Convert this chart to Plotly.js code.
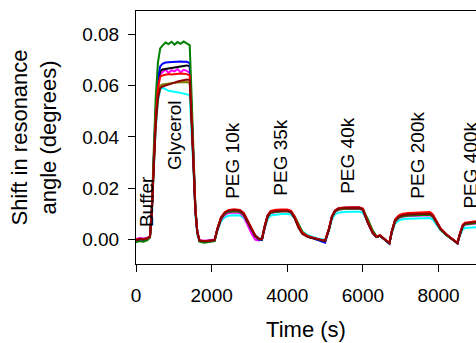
<!DOCTYPE html>
<html>
<head>
<meta charset="utf-8">
<script src="https://cdn.plot.ly/plotly-3.0.1.min.js"></script>
<style>html,body{margin:0;padding:0;overflow:hidden;background:#fff}#chart{width:476px;height:343px}</style>
</head>
<body>
<div id="chart"></div>
<script>
// Time (s)
const time = [0,100,200,300,370, 420,470,520,580,640, 700,780,860,940,1020,1100,1180,1260,1340,1420, 1470,1520,1570,1620,1680, 1800,1950,2080,
 2150,2250,2350,2450,2600,2750,2850,2950,3050,3150,3250,3330,
 3400,3480,3560,3700,3850,4000,4100,4200,4300,4400,4550,4700,4850,5000,
 5100,5180,5260,5350,5500,5700,5900,6000,6130,6260,6360,6450,6550,6700,
 6760,6850,6950,7050,7200,7400,7600,7770,7850,7950,8050,8200,8330,8430,8500,
 8560,8640,8700,8800,8900,8990];

const cyan = [0.0000,0.0004,0.0003,0.0005,0.0012, 0.011,0.027,0.043,0.054,0.0585,
 0.0592,0.0585,0.0580,0.0578,0.0576,0.0574,0.0572,0.0570,0.0567,0.0562,
 0.043,0.027,0.010,0.002,-0.0006, -0.0008,-0.0006,-0.0003,
 0.0033,0.0072,0.0088,0.0093,0.0095,0.0094,0.0085,0.0062,0.0040,0.0018,0.0006,0.0004,
 0.0042,0.0080,0.0094,0.0098,0.0100,0.0100,0.0098,0.0082,0.0055,0.0032,0.0017,0.0009,0.0003,0.0000,
 0.0034,0.0078,0.0098,0.0105,0.0108,0.0109,0.0109,0.0105,0.0070,0.0032,0.0015,0.0014,0.0004,-0.0017,
 0.0024,0.0063,0.0075,0.0079,0.0081,0.0083,0.0084,0.0084,0.0078,0.0058,0.0037,0.0017,0.0004,-0.0004,-0.0012,
 0.0014,0.0040,0.0045,0.0046,0.0047,0.0048];

const magenta = [0.0002,0.0006,0.0004,0.0007,0.0014, 0.012,0.030,0.048,0.060,0.0645,
 0.0652,0.0663,0.0650,0.0660,0.0656,0.0665,0.0652,0.0662,0.0658,0.0650,
 0.050,0.031,0.012,0.003,-0.0002, -0.0004,-0.0003,0.0000,
 0.0036,0.0078,0.0097,0.0104,0.0106,0.0104,0.0090,0.0058,0.0025,0.0000,-0.0003,0.0001,
 0.0047,0.0088,0.0104,0.0108,0.0110,0.0110,0.0106,0.0084,0.0050,0.0026,0.0012,0.0005,0.0000,-0.0005,
 0.0038,0.0086,0.0108,0.0116,0.0119,0.0120,0.0120,0.0115,0.0066,0.0026,0.0011,0.0015,0.0004,-0.0013,
 0.0027,0.0070,0.0084,0.0089,0.0092,0.0094,0.0095,0.0095,0.0088,0.0063,0.0040,0.0019,0.0005,-0.0003,-0.0012,
 0.0017,0.0050,0.0058,0.0060,0.0061,0.0063];

const olive = [-0.0002,0.0001,0.0002,0.0004,0.0011, 0.011,0.028,0.045,0.056,0.0600,
 0.0605,0.0607,0.0608,0.0610,0.0611,0.0612,0.0613,0.0614,0.0614,0.0610,
 0.048,0.029,0.011,0.003,-0.0004, -0.0006,-0.0005,-0.0002,
 0.0039,0.0083,0.0102,0.0109,0.0111,0.0109,0.0097,0.0068,0.0038,0.0014,0.0003,0.0002,
 0.0048,0.0089,0.0105,0.0109,0.0110,0.0110,0.0106,0.0082,0.0047,0.0024,0.0011,0.0004,0.0000,-0.0005,
 0.0039,0.0087,0.0109,0.0117,0.0120,0.0121,0.0121,0.0116,0.0066,0.0026,0.0011,0.0015,0.0004,-0.0013,
 0.0028,0.0072,0.0087,0.0092,0.0095,0.0097,0.0098,0.0098,0.0090,0.0064,0.0041,0.0019,0.0005,-0.0004,-0.0013,
 0.0019,0.0053,0.0060,0.0063,0.0064,0.0066];

const black = [-0.0002,0.0002,0.0001,0.0004,0.0011, 0.012,0.031,0.049,0.061,0.0655,
 0.0663,0.0665,0.0667,0.0669,0.0671,0.0673,0.0675,0.0677,0.0679,0.0676,
 0.051,0.031,0.012,0.003,-0.0004, -0.0006,-0.0005,-0.0002,
 0.0040,0.0085,0.0104,0.0111,0.0113,0.0111,0.0099,0.0069,0.0039,0.0014,0.0002,0.0001,
 0.0049,0.0091,0.0107,0.0111,0.0112,0.0112,0.0108,0.0084,0.0049,0.0025,0.0011,0.0004,-0.0001,-0.0007,
 0.0040,0.0089,0.0111,0.0119,0.0122,0.0123,0.0123,0.0117,0.0066,0.0026,0.0010,0.0015,0.0003,-0.0015,
 0.0029,0.0074,0.0089,0.0094,0.0097,0.0099,0.0100,0.0100,0.0092,0.0066,0.0042,0.0020,0.0005,-0.0004,-0.0014,
 0.0019,0.0054,0.0062,0.0064,0.0065,0.0067];

const blue = [-0.0004,0.0001,0.0000,0.0003,0.0010, 0.012,0.032,0.050,0.063,0.0675,
 0.0685,0.0690,0.0691,0.0692,0.0693,0.0692,0.0694,0.0693,0.0693,0.0688,
 0.052,0.032,0.012,0.003,-0.0005, -0.0007,-0.0006,-0.0003,
 0.0040,0.0084,0.0104,0.0111,0.0113,0.0111,0.0099,0.0070,0.0040,0.0014,0.0000,-0.0002,
 0.0050,0.0093,0.0108,0.0112,0.0114,0.0114,0.0109,0.0085,0.0050,0.0026,0.0012,0.0004,-0.0004,-0.0012,
 0.0040,0.0090,0.0113,0.0121,0.0124,0.0125,0.0125,0.0119,0.0068,0.0026,0.0011,0.0015,0.0004,-0.0016,
 0.0030,0.0076,0.0092,0.0098,0.0101,0.0103,0.0104,0.0104,0.0095,0.0068,0.0044,0.0021,0.0006,-0.0004,-0.0015,
 0.0020,0.0056,0.0064,0.0066,0.0067,0.0069];

const green = [-0.0010,-0.0006,-0.0008,-0.0002,0.0008, 0.013,0.035,0.055,0.069,0.0745,
 0.0756,0.0768,0.0762,0.0771,0.0760,0.0770,0.0763,0.0772,0.0765,0.0758,
 0.056,0.034,0.013,0.003,-0.0008, -0.0012,-0.0010,-0.0006,
 0.0038,0.0082,0.0102,0.0110,0.0112,0.0110,0.0098,0.0068,0.0038,0.0014,0.0002,0.0000,
 0.0048,0.0090,0.0106,0.0110,0.0112,0.0112,0.0110,0.0090,0.0058,0.0030,0.0012,0.0004,-0.0001,-0.0006,
 0.0038,0.0088,0.0110,0.0118,0.0121,0.0122,0.0122,0.0118,0.0080,0.0035,0.0012,0.0015,0.0003,-0.0014,
 0.0028,0.0072,0.0086,0.0091,0.0094,0.0096,0.0097,0.0097,0.0090,0.0064,0.0040,0.0018,0.0004,-0.0005,-0.0014,
 0.0018,0.0052,0.0060,0.0062,0.0063,0.0065];

const red = [0.0000,0.0003,0.0002,0.0004,0.0012, 0.012,0.030,0.047,0.059,0.0635,
 0.0640,0.0643,0.0645,0.0644,0.0646,0.0645,0.0647,0.0646,0.0645,0.0640,
 0.050,0.031,0.012,0.003,-0.0003, -0.0005,-0.0004,-0.0001,
 0.0042,0.0088,0.0108,0.0116,0.0118,0.0116,0.0104,0.0075,0.0043,0.0017,0.0004,0.0003,
 0.0052,0.0095,0.0112,0.0116,0.0117,0.0117,0.0112,0.0088,0.0052,0.0027,0.0013,0.0006,0.0001,-0.0004,
 0.0042,0.0092,0.0114,0.0122,0.0125,0.0126,0.0126,0.0121,0.0070,0.0028,0.0012,0.0017,0.0006,-0.0013,
 0.0032,0.0078,0.0095,0.0101,0.0104,0.0106,0.0108,0.0108,0.0098,0.0070,0.0045,0.0022,0.0008,-0.0002,-0.0012,
 0.0022,0.0058,0.0066,0.0069,0.0070,0.0072];

const darkred = [-0.0003,0.0002,0.0001,0.0005,0.0012, 0.011,0.028,0.044,0.055,0.0590,
 0.0597,0.0600,0.0604,0.0608,0.0612,0.0616,0.0619,0.0622,0.0624,0.0622,
 0.048,0.029,0.011,0.003,-0.0004, -0.0006,-0.0005,-0.0002,
 0.0040,0.0085,0.0105,0.0113,0.0115,0.0113,0.0100,0.0070,0.0040,0.0015,0.0003,0.0002,
 0.0050,0.0092,0.0108,0.0112,0.0113,0.0113,0.0108,0.0082,0.0045,0.0022,0.0010,0.0004,0.0000,-0.0005,
 0.0040,0.0090,0.0112,0.0120,0.0123,0.0124,0.0124,0.0118,0.0065,0.0025,0.0010,0.0016,0.0004,-0.0014,
 0.0030,0.0075,0.0090,0.0095,0.0098,0.0100,0.0101,0.0101,0.0092,0.0065,0.0042,0.0020,0.0006,-0.0004,-0.0014,
 0.0020,0.0055,0.0063,0.0066,0.0067,0.0069];

const seriesNames = ['cyan','magenta','olive','black','blue','green','red','darkred'];
const seriesData = [cyan, magenta, olive, black, blue, green, red, darkred];
const seriesColors = ['#00FFFF','#FF00FF','#808000','#000000','#0000FF','#008000','#FF0000','#8B0000'];

// Event labels
const labelText = ['Buffer','Glycerol','PEG 10k','PEG 35k','PEG 40k','PEG 200k','PEG 400k'];
const labelX = [264, 1004, 2563, 3831, 5601, 7450, 8850];
const labelY = [0.0043, 0.0263, 0.0153, 0.0165, 0.0172, 0.0153, 0.0114];

const yTicks = [0, 0.02, 0.04, 0.06, 0.08];
const xTicks = [0, 2000, 4000, 6000, 8000];

const FONT = 'Liberation Sans, Arial, Helvetica, sans-serif';

const traces = seriesData.map((ys, i) => ({
  x: time, y: ys, type: 'scatter', mode: 'lines', name: seriesNames[i],
  line: {color: seriesColors[i], width: 2}, hoverinfo: 'skip'
}));

const annotations = labelText.map((t, i) => ({
  x: labelX[i], y: labelY[i], xref: 'x', yref: 'y', text: t, showarrow: false,
  textangle: -90, xanchor: 'center', yanchor: 'bottom',
  font: {family: FONT, size: 19, color: '#000'}
}));

const layout = {
  width: 476, height: 343,
  margin: {l: 136, r: 0, t: 11, b: 79, pad: 0},
  paper_bgcolor: '#fff', plot_bgcolor: '#fff',
  showlegend: false,
  font: {family: FONT, color: '#000'},
  xaxis: {
    range: [0, 8990], tickvals: xTicks, ticktext: xTicks.map(String),
    ticks: 'outside', ticklen: 7, tickwidth: 1, tickcolor: '#000',
    showline: true, linecolor: '#000', linewidth: 1, mirror: true,
    showgrid: false, zeroline: false,
    tickfont: {family: FONT, size: 19, color: '#000'},
    ticklabelstandoff: 7,
    title: {text: 'Time (s)', font: {family: FONT, size: 22, color: '#000'}, standoff: 16}
  },
  yaxis: {
    range: [-0.0095, 0.0891], tickvals: yTicks, ticktext: yTicks.map(v => v.toFixed(2)),
    ticks: 'outside', ticklen: 7, tickwidth: 1, tickcolor: '#000',
    showline: true, linecolor: '#000', linewidth: 1,
    showgrid: false, zeroline: false,
    tickfont: {family: FONT, size: 19, color: '#000'},
    ticklabelstandoff: 5,
    title: {text: 'Shift in resonance<br>angle (degrees)', font: {family: FONT, size: 22, color: '#000'}, standoff: 19}
  },
  annotations: annotations
};

Plotly.newPlot('chart', traces, layout, {staticPlot: true, displayModeBar: false});
</script>
</body>
</html>
